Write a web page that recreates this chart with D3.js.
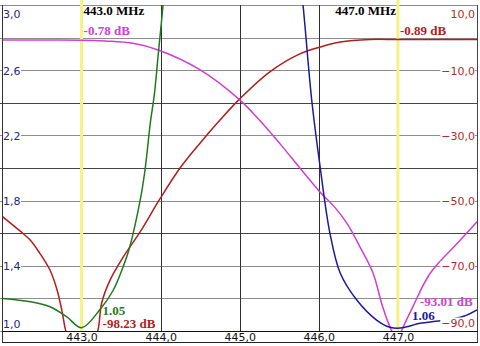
<!DOCTYPE html>
<html>
<head>
<meta charset="utf-8">
<script src="https://cdn.jsdelivr.net/npm/d3@7"></script>
<style>
  html, body { margin: 0; padding: 0; background: #fff; }
  svg { display: block; }
</style>
</head>
<body>
<svg id="chart" width="480" height="346"></svg>
<script>
// ---------- data ----------
const freqTicks = [443, 444, 445, 446, 447];
const swrTicks = [3.0, 2.6, 2.2, 1.8, 1.4, 1.0];
const dbTicks = [10, -10, -30, -50, -70, -90];
const markerFreqs = [443.0, 447.0];

// Green: SWR (left axis)
const greenFreq = [442.0, 442.35, 442.6, 442.81, 443.0, 443.23, 443.4, 443.53, 443.6, 443.74, 443.8, 443.87, 443.92, 443.97, 444.03, 444.08];
const greenSWR  = [1.20, 1.18, 1.149, 1.088, 1.02, 1.13, 1.25, 1.40, 1.50, 1.80, 1.98, 2.28, 2.45, 2.70, 3.0, 3.3];

// Blue: SWR (left axis)
const blueFreq = [445.72, 445.80, 445.91, 446.015, 446.14, 446.27, 446.48, 446.73, 446.9, 447.03, 447.28, 447.45, 447.62, 447.83, 448.0];
const blueSWR  = [3.35, 3.0, 2.417, 2.012, 1.601, 1.356, 1.19, 1.067, 1.023, 1.018, 1.047, 1.058, 1.067, 1.09, 1.13];

// Dark red: dB (right axis)
const redFreq = [442.0, 442.22, 442.35, 442.47, 442.6, 442.69, 442.75, 442.8, 442.86, 443.0, 443.14, 443.21, 443.254, 443.36, 443.53, 443.74, 443.99, 444.245, 444.5, 444.75, 445.0, 445.38, 445.76, 446.015, 446.27, 446.65, 447.0, 447.5, 448.0];
const redDB   = [-54.9, -59.3, -62.1, -66.1, -71.3, -77.4, -83.6, -90.0, -94.3, -98.23, -94.5, -89.4, -81.4, -74.4, -67.2, -59.6, -49.5, -40.0, -32.3, -25.3, -18.8, -10.5, -5.0, -2.9, -1.35, -0.58, -0.6, -0.6, -0.6];

// Magenta: dB (right axis)
const magFreq = [442.0, 442.5, 443.0, 443.3, 443.65, 443.97, 444.5, 445.0, 445.26, 445.51, 445.76, 446.015, 446.2, 446.37, 446.52, 446.685, 446.8, 446.9, 447.0, 447.05, 447.19, 447.41, 447.79, 448.0];
const magDB   = [-0.74, -0.74, -0.78, -1.05, -1.75, -3.8, -9.9, -19.1, -25.6, -32.6, -40.0, -47.4, -52.0, -57.5, -64.2, -72.2, -82.0, -88.8, -93.01, -89.7, -82.5, -72.2, -62.1, -56.5];

// marker readouts
const markerTopLabels = ["443.0 MHz", "447.0 MHz"];
const markerLevelLabels = ["-0.78 dB", "-0.89 dB"];
const bottomLabels443 = ["1.05", "-98.23 dB"];
const bottomLabels447 = ["-93.01 dB", "1.06"];

// ---------- layout ----------
const L = 2.5, R = 477, T = 5, B = 331;
const svg = d3.select("#chart");
const x = d3.scaleLinear().domain([442, 448]).range([L, R]);
const ySWR = d3.scaleLinear().domain([1, 3]).range([B, T]);
const yDB = d3.scaleLinear().domain([-90, 10]).range([B, T]);

const COL = { green: "#1f7a1f", blue: "#1a1aa0", red: "#b51c1c", mag: "#d23ed2",
              navy: "#24248a", dred: "#b52a2a", yellow: "#f4f283" };

// horizontal gridlines every 0.2 SWR
const gridVals = d3.range(0, 11).map(i => 1 + i * 0.2);
svg.append("g").selectAll("line").data(gridVals).join("line")
  .attr("x1", 0).attr("x2", R)
  .attr("y1", d => Math.round(ySWR(d)) + 0.5).attr("y2", d => Math.round(ySWR(d)) + 0.5)
  .attr("stroke", (d, i) => (i === 3 || i === 5 || i === 7) ? "#454545" : "#8e8e8e")
  .attr("stroke-width", 1);

// vertical gridlines
svg.append("g").selectAll("line").data([444, 445, 446]).join("line")
  .attr("x1", d => Math.round(x(d)) + 0.5).attr("x2", d => Math.round(x(d)) + 0.5)
  .attr("y1", T).attr("y2", B)
  .attr("stroke", "#303030").attr("stroke-width", 1);

// frame
svg.append("line").attr("x1", 2.5).attr("x2", 2.5).attr("y1", T).attr("y2", 343).attr("stroke", "#333");
svg.append("line").attr("x1", R + 0.5).attr("x2", R + 0.5).attr("y1", T).attr("y2", 343).attr("stroke", "#444");
svg.append("line").attr("x1", 2).attr("x2", R + 1).attr("y1", B + 0.5).attr("y2", B + 0.5).attr("stroke", "#111");
svg.append("line").attr("x1", 2).attr("x2", R + 1).attr("y1", 342.5).attr("y2", 342.5).attr("stroke", "#222");

// yellow markers
svg.append("g").selectAll("line").data(markerFreqs).join("line")
  .attr("x1", d => x(d)).attr("x2", d => x(d))
  .attr("y1", 0).attr("y2", B)
  .attr("stroke", COL.yellow).attr("stroke-width", 3);

// curves
svg.append("defs").append("clipPath").attr("id", "clip")
  .append("rect").attr("x", L).attr("y", T).attr("width", R - L).attr("height", B - T);
const curves = svg.append("g").attr("clip-path", "url(#clip)");
function drawCurve(fx, fy, yScale, color) {
  const pts = fx.map((f, i) => [f, fy[i]]);
  const line = d3.line().x(d => x(d[0])).y(d => yScale(d[1])).curve(d3.curveCatmullRom.alpha(0.5));
  curves.append("path").attr("d", line(pts)).attr("fill", "none")
    .attr("stroke", color).attr("stroke-width", 1.5);
}
drawCurve(redFreq, redDB, yDB, COL.red);
drawCurve(magFreq, magDB, yDB, COL.mag);
drawCurve(blueFreq, blueSWR, ySWR, COL.blue);
drawCurve(greenFreq, greenSWR, ySWR, COL.green);

// x axis labels
const fmtC = d => d3.format(".1f")(d).replace(".", ",");
const xAxis = svg.append("g").attr("transform", `translate(0,${B})`)
  .call(d3.axisBottom(x).tickValues(freqTicks).tickSize(0).tickPadding(0).tickFormat(fmtC));
xAxis.select(".domain").remove();
xAxis.selectAll("text").attr("y", 9.5).attr("dy", 0)
  .attr("font-family", "DejaVu Sans").attr("font-size", 11).attr("fill", "#111");

// left axis (SWR)
const lAxis = svg.append("g").attr("transform", "translate(3,0)")
  .call(d3.axisRight(ySWR).tickValues(swrTicks).tickSize(0).tickPadding(0).tickFormat(fmtC));
lAxis.select(".domain").remove();
lAxis.selectAll(".tick").each(function(d) {
  const g = d3.select(this);
  const off = d === 3 ? 12.5 : (d === 1 ? -3.5 : 4);
  g.select("text").attr("x", 0).attr("y", off).attr("dy", 0)
    .attr("font-family", "DejaVu Sans").attr("font-size", 11).attr("fill", COL.navy);
  g.insert("rect", "text").attr("x", 0).attr("y", off - 9).attr("width", 18).attr("height", 11).attr("fill", "#fff");
});

// right axis (dB)
const rAxis = svg.append("g").attr("transform", `translate(${R - 2},0)`)
  .call(d3.axisLeft(yDB).tickValues(dbTicks).tickSize(0).tickPadding(0).tickFormat(fmtC));
rAxis.select(".domain").remove();
rAxis.selectAll(".tick").each(function(d) {
  const g = d3.select(this);
  const off = d === 10 ? 12.5 : (d === -90 ? -5 : 4);
  const t = g.select("text").attr("x", 0).attr("y", off).attr("dy", 0)
    .attr("font-family", "DejaVu Sans").attr("font-size", 11).attr("fill", COL.dred);
  const w = t.node().getComputedTextLength();
  g.insert("rect", "text").attr("x", -w - 1).attr("y", off - 9).attr("width", w + 1).attr("height", 11).attr("fill", "#fff");
});

// marker text
const serif = "Liberation Serif";
function label(txt, px, py, color, anchor) {
  svg.append("text").attr("x", px).attr("y", py).text(txt)
    .attr("font-family", serif).attr("font-weight", "bold").attr("font-size", 13)
    .attr("fill", color).attr("text-anchor", anchor || "start");
}
label(markerTopLabels[0], x(markerFreqs[0]) + 2, 15, "#000");
label(markerTopLabels[1], x(markerFreqs[1]) - 2, 15, "#000", "end");
label(markerLevelLabels[0], x(markerFreqs[0]) + 2, 35, COL.mag);
label(markerLevelLabels[1], x(markerFreqs[1]) + 2, 35, COL.red);
label(bottomLabels443[0], x(markerFreqs[0]) + 21, 315, COL.green);
label(bottomLabels443[1], x(markerFreqs[0]) + 21, 328, COL.red);
label(bottomLabels447[0], x(markerFreqs[1]) + 22, 306, COL.mag);
label(bottomLabels447[1], x(markerFreqs[1]) + 14, 320, COL.blue);
</script>
</body>
</html>
